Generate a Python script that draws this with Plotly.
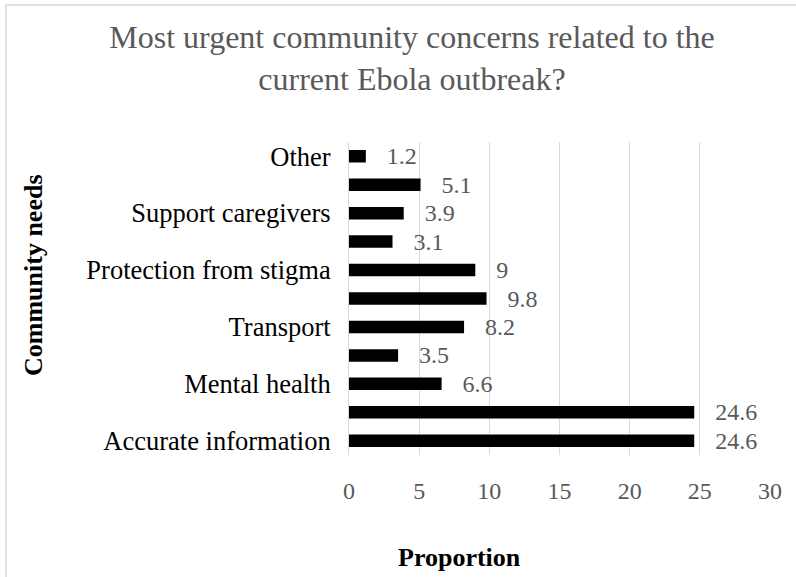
import plotly.graph_objects as go

# Data (bottom to top as displayed); unlabeled categories were not shown in the original
categories = ["Accurate information", "", "Mental health", "", "Transport", "",
              "Protection from stigma", "", "Support caregivers", "", "Other"]
values = [24.6, 24.6, 6.6, 3.5, 8.2, 9.8, 9, 3.1, 3.9, 5.1, 1.2]
x_ticks = [0, 5, 10, 15, 20, 25, 30]

positions = list(range(len(categories)))
font_family = "Liberation Serif, Times New Roman, serif"

fig = go.Figure(go.Bar(
    x=values,
    y=positions,
    orientation="h",
    marker=dict(color="black", line=dict(width=0)),
    width=0.44,
    text=[f"{v:g}" for v in values],
    texttemplate="   %{text}",
    textposition="outside",
    constraintext="none",
    cliponaxis=False,
    textfont=dict(family=font_family, size=24, color="#595959"),
))

fig.update_layout(
    width=796, height=577,
    margin=dict(l=349, r=26, t=142, b=122),
    paper_bgcolor="white", plot_bgcolor="white",
    showlegend=False,
    title=dict(
        text="Most urgent community concerns related to the<br>current Ebola outbreak?",
        x=412 / 796, xanchor="center", xref="container",
        y=1 - 48 / 577, yanchor="middle", yref="container",
        font=dict(family=font_family, size=32, color="#595959"),
    ),
    xaxis=dict(
        range=[0, 30], tickvals=x_ticks, ticktext=[str(t) for t in x_ticks],
        showgrid=True, gridcolor="#d9d9d9", gridwidth=1,
        zeroline=False, showline=False,
        tickfont=dict(family=font_family, size=24, color="#595959"),
        ticks="outside", ticklen=0, ticklabelstandoff=14,
    ),
    yaxis=dict(
        range=[-0.5, len(categories) - 0.5],
        tickvals=positions, ticktext=categories,
        showgrid=False, zeroline=False,
        showline=True, linecolor="#d9d9d9", linewidth=1,
        tickfont=dict(family=font_family, size=26.5, color="black"),
        ticks="", ticklabelstandoff=12,
    ),
    annotations=[
        dict(text="<b>Proportion</b>", xref="paper", yref="paper",
             x=(459 - 349) / 421, y=(455 - 557) / 313, xanchor="center", yanchor="middle",
             showarrow=False, font=dict(family=font_family, size=26, color="black")),
        dict(text="<b>Community needs</b>", xref="paper", yref="paper",
             x=(33 - 349) / 421, y=(455 - 275) / 313, xanchor="center", yanchor="middle",
             textangle=-90, showarrow=False,
             font=dict(family=font_family, size=26, color="black")),
    ],
    shapes=[
        dict(type="rect", xref="paper", yref="paper",
             x0=(6 - 349) / 421, x1=1.2, y0=-0.6, y1=(455 - 5) / 313,
             line=dict(color="#d9d9d9", width=1.5), fillcolor="rgba(0,0,0,0)",
             layer="below"),
    ],
)

fig.write_html("out.html")
